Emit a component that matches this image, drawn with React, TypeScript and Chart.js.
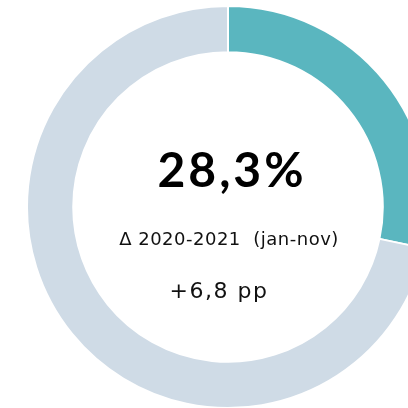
import React, { useEffect, useRef } from "react";
import { Chart, registerables } from "chart.js";
Chart.register(...registerables);

const categories = ["2021 (jan-nov)", "Resto"];
const values = [28.3, 71.7];
const colors = ["#5AB6BF", "#CFDBE6"];
const mainLabel = "28,3%";
const deltaLabel = "Δ 2020-2021  (jan-nov)";
const changeLabel = "+6,8 pp";

const centerText = {
  id: "centerText",
  afterDraw(chart: any) {
    const ctx = chart.ctx;
    const meta = chart.getDatasetMeta(0);
    const arc = meta.data[0];
    const cx = arc.x;
    const cy = arc.y;
    ctx.save();
    ctx.fillStyle = "#000";
    ctx.textAlign = "center";
    ctx.textBaseline = "alphabetic";
    ctx.font = "bold 48px Lato";
    (ctx as any).letterSpacing = "3px";
    ctx.fillText(mainLabel, cx + 4, cy - 20);
    ctx.font = "18px 'DejaVu Sans'";
    (ctx as any).letterSpacing = "0.5px";
    ctx.fillStyle = "#111";
    ctx.fillText(deltaLabel, cx + 1, cy + 38);
    ctx.font = "22px 'DejaVu Sans'";
    (ctx as any).letterSpacing = "1.5px";
    ctx.fillText(changeLabel, cx - 9, cy + 91);
    ctx.restore();
  },
};

export default function App() {
  const ref = useRef<HTMLCanvasElement>(null);
  useEffect(() => {
    const chart = new Chart(ref.current!, {
      type: "doughnut",
      data: {
        labels: categories,
        datasets: [
          {
            data: values,
            backgroundColor: colors,
            borderColor: "#ffffff",
            borderWidth: 2,
          },
        ],
      },
      options: {
        responsive: false,
        animation: false,
        cutout: "77%",
        layout: { padding: 0 },
        plugins: { legend: { display: false }, tooltip: { enabled: false } },
      },
      plugins: [centerText],
    });
    return () => chart.destroy();
  }, []);
  return (
    <div
      style={{
        position: "fixed",
        left: 0,
        top: 0,
        width: 408,
        height: 408,
        overflow: "hidden",
        background: "#fff",
      }}
    >
      <canvas
        ref={ref}
        width={404}
        height={404}
        style={{ position: "absolute", left: 26, top: 5, width: 404, height: 404 }}
      />
    </div>
  );
}
